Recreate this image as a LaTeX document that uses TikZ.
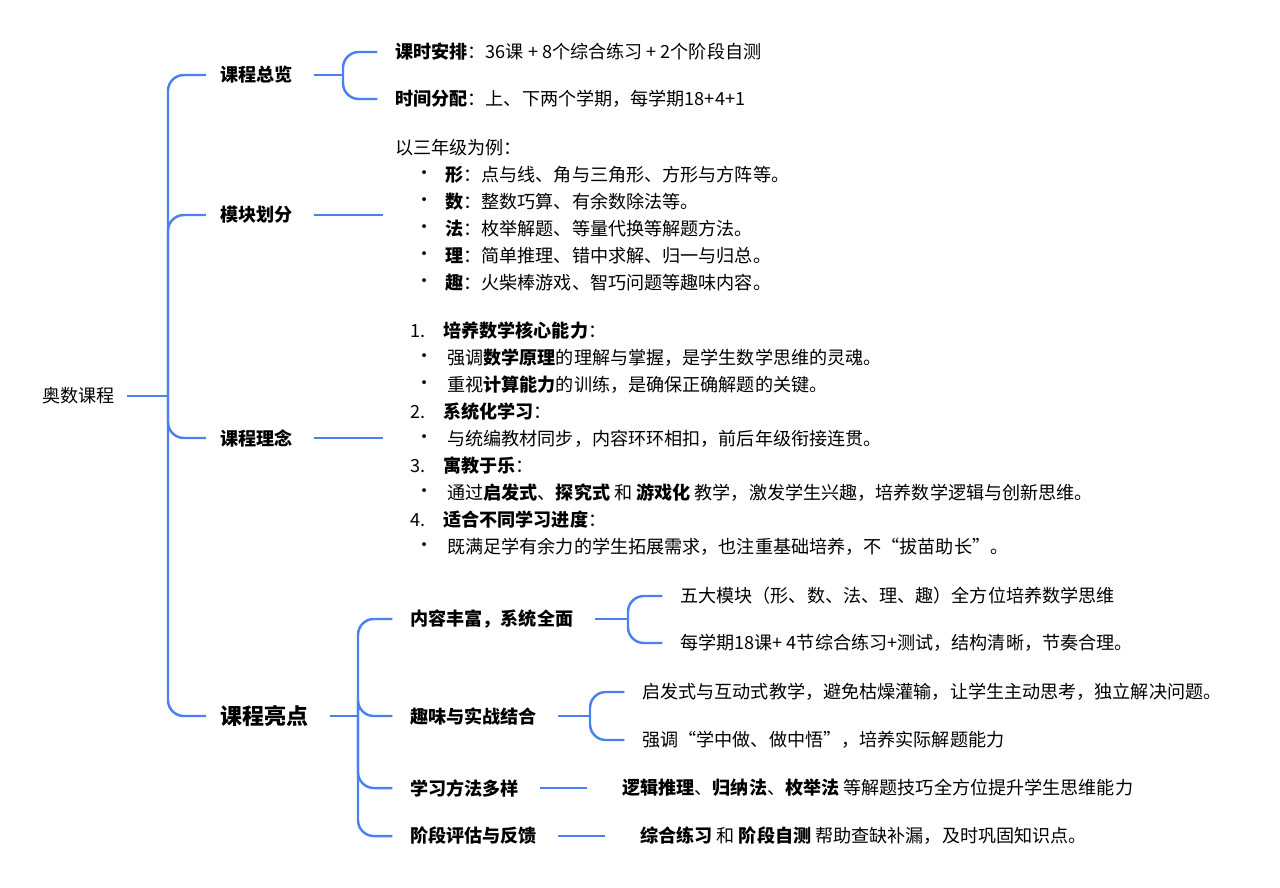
\documentclass[tikz,border=0pt]{standalone}
\usepackage{fontspec}
\setmainfont{Noto Sans CJK SC}
\begin{document}
\begin{tikzpicture}[x=0.02cm,y=-0.02cm,
  conn/.style={draw={rgb,255:red,74;green,128;blue,240}, line width=1.4pt, rounded corners=9},
  tx/.style={anchor=west, inner sep=0pt, font=\fontsize{10.3pt}{11pt}\selectfont},
  bt/.style={tx, font=\fontsize{10.3pt}{11pt}\selectfont\bfseries},
  bg/.style={tx, font=\fontsize{12.5pt}{13pt}\selectfont\bfseries}]
\useasboundingbox (0,0) rectangle (1280,887);
% root
\node[tx] (root) at (42,396) {奥数课程};
\coordinate (t) at (168,396);
\draw[conn] (root.east)++(12,0) -- (t);
\node[bt] (b1) at (220,75) {课程总览};
\node[bt] (b2) at (220,215) {模块划分};
\node[bt] (b3) at (220,438) {课程理念};
\node[bg] (b4) at (220,716) {课程亮点};
\foreach \b in {b1,b2,b3,b4} \draw[conn] (t) |- ([xshift=-8]\b.west);
% b1
\coordinate (f1) at (343,75);
\draw[conn] ([xshift=12]b1.east) -- (f1);
\node[tx] (l11) at (395,52) {\textbf{课时安排}：36课 + 8个综合练习 + 2个阶段自测};
\node[tx] (l12) at (395,99) {\textbf{时间分配}：上、下两个学期，每学期18+4+1};
\draw[conn] (f1) |- ([xshift=-10]l11.west);
\draw[conn] (f1) |- ([xshift=-10]l12.west);
% b2
\draw[conn] ([xshift=12]b2.east) -- (383,215) coordinate (e2);
\node[tx] at (395,148) {以三年级为例：};
\foreach \y/\t in {175/\textbf{形}：点与线、角与三角形、方形与方阵等。,
  202/\textbf{数}：整数巧算、有余数除法等。,
  229/\textbf{法}：枚举解题、等量代换等解题方法。,
  256/\textbf{理}：简单推理、错中求解、归一与归总。,
  283/\textbf{趣}：火柴棒游戏、智巧问题等趣味内容。}
  {\node[tx] at (415,\y) {・}; \node[tx] at (445,\y) {\t};}
% b3
\draw[conn] ([xshift=12]b3.east) -- (383,438) coordinate (e3);
\foreach \y/\n/\t in {331/1./培养数学核心能力, 412/2./系统化学习, 466/3./寓教于乐, 520/4./适合不同学习进度}
  {\node[tx] at (410,\y) {\n}; \node[bt] at (443,\y) {\t\mdseries：};}
\foreach \y/\t in {358/强调\textbf{数学原理}的理解与掌握，是学生数学思维的灵魂。,
  385/重视\textbf{计算能力}的训练，是确保正确解题的关键。,
  439/与统编教材同步，内容环环相扣，前后年级衔接连贯。,
  493/通过\textbf{启发式}、\textbf{探究式} 和 \textbf{游戏化} 教学，激发学生兴趣，培养数学逻辑与创新思维。,
  547/既满足学有余力的学生拓展需求，也注重基础培养，不“拔苗助长”。}
  {\node[tx] at (415,\y) {・}; \node[tx] at (447,\y) {\t};}
% b4
\coordinate (f4) at (358,716);
\draw[conn] ([xshift=12]b4.east) -- (f4);
\node[bt] (c1) at (410,619) {内容丰富，系统全面};
\node[bt] (c2) at (410,716) {趣味与实战结合};
\node[bt] (c3) at (410,788) {学习方法多样};
\node[bt] (c4) at (410,836) {阶段评估与反馈};
\foreach \c in {c1,c2,c3,c4} \draw[conn] (f4) |- ([xshift=-10]\c.west);
% c1
\coordinate (g1) at (628,619);
\draw[conn] ([xshift=12]c1.east) -- (g1);
\node[tx] (d11) at (680,596) {五大模块（形、数、法、理、趣）全方位培养数学思维};
\node[tx] (d12) at (680,643) {每学期18课+ 4节综合练习+测试，结构清晰，节奏合理。};
\draw[conn] (g1) |- ([xshift=-10]d11.west);
\draw[conn] (g1) |- ([xshift=-10]d12.west);
% c2
\coordinate (g2) at (590,716);
\draw[conn] ([xshift=12]c2.east) -- (g2);
\node[tx] (d21) at (642,692) {启发式与互动式教学，避免枯燥灌输，让学生主动思考，独立解决问题。};
\node[tx] (d22) at (642,740) {强调“学中做、做中悟”，培养实际解题能力};
\draw[conn] (g2) |- ([xshift=-10]d21.west);
\draw[conn] (g2) |- ([xshift=-10]d22.west);
% c3, c4
\node[tx] (d3) at (622,788) {\textbf{逻辑推理}、\textbf{归纳法}、\textbf{枚举法} 等解题技巧全方位提升学生思维能力};
\draw[conn] ([xshift=12]c3.east) -- ([xshift=-20]d3.west);
\node[tx] (d4) at (640,836) {\textbf{综合练习} 和 \textbf{阶段自测} 帮助查缺补漏，及时巩固知识点。};
\draw[conn] ([xshift=12]c4.east) -- ([xshift=-20]d4.west);
\end{tikzpicture}
\end{document}
